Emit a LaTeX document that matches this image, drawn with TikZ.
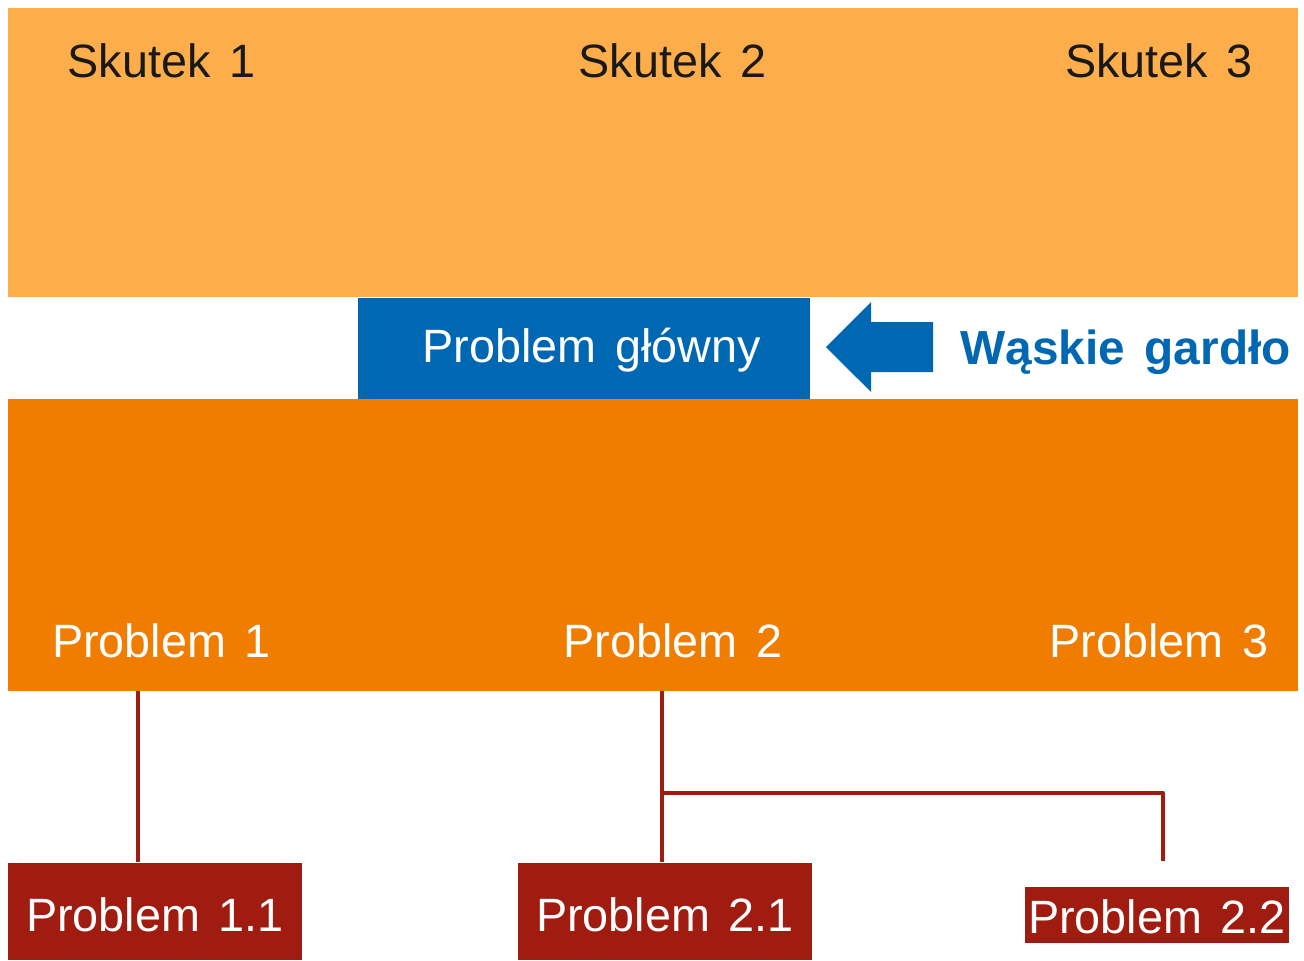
\documentclass[tikz,border=0pt]{standalone}
\usepackage{fontspec}
\setmainfont{Liberation Sans}[WordSpace=1.45]
\usepackage{xcolor}
\usepackage{tikz}
\usetikzlibrary{positioning,calc}

\definecolor{skutekorange}{RGB}{253,173,73}
\definecolor{problemorange}{RGB}{240,125,0}
\definecolor{mainblue}{RGB}{0,103,179}
\definecolor{subred}{RGB}{160,28,16}

\begin{document}
\begin{tikzpicture}[
            font=\fontsize{13.3pt}{15pt}\selectfont,
            band/.style={rectangle, minimum width=12.9cm, inner sep=0pt},
            bandtext/.style={anchor=base, inner sep=0pt},
            subbox/.style={rectangle, fill=subred, text=white, inner sep=0pt, text height=11.6pt, text depth=0pt},
            link/.style={draw=subred, line width=1.2pt, line join=round}
        ]
            \useasboundingbox (0,0) rectangle (13.04,-9.61);

            \node[band, fill=skutekorange, minimum height=2.89cm] (skutki) at (6.53,-1.525) {};
            \node[band, fill=problemorange, minimum height=2.92cm] (problemy) at (6.53,-5.45) {};
            \node[rectangle, fill=mainblue, minimum width=4.52cm, minimum height=1.01cm, inner sep=0pt] (glowny) at (5.84,-3.485) {};
            \node[bandtext, text=white] (glownytxt) at (5.92,-3.627) {Problem główny};

            \node[bandtext, text=black!90] (s1) at (1.615,-0.77) {Skutek 1};
            \node[bandtext, text=black!90] (s2) at (6.725,-0.77) {Skutek 2};
            \node[bandtext, text=black!90] (s3) at (11.59,-0.77) {Skutek 3};

            \node[bandtext, text=white] (pr1) at (1.615,-6.57) {Problem 1};
            \node[bandtext, text=white] (pr2) at (6.73,-6.57) {Problem 2};
            \node[bandtext, text=white] (pr3) at (11.59,-6.57) {Problem 3};

            % Bottleneck
            \fill[mainblue] (8.26,-3.47) -- (8.71,-3.02) -- (8.71,-3.22) -- (9.33,-3.22)
                -- (9.33,-3.72) -- (8.71,-3.72) -- (8.71,-3.92) -- cycle;
            \node[anchor=base west, inner sep=0pt, text=mainblue, font=\fontsize{13.6pt}{15pt}\selectfont\bfseries] (gardlo) at (9.60,-3.64) {Wąskie gardło};

            \node[subbox, minimum width=2.94cm, minimum height=0.97cm] (p11) at (1.55,-9.115) {Problem 1.1};
            \node[subbox, minimum width=2.94cm, minimum height=0.97cm] (p21) at (6.65,-9.115) {Problem 2.1};
            \node[subbox, minimum width=2.64cm, minimum height=0.56cm, text height=10.5pt] (p22) at (11.57,-9.15) {Problem 2.2};

            \coordinate (z1) at (1.38,-6.91);
            \coordinate (z2) at (6.62,-6.91);
            \coordinate (rozgal) at (6.62,-7.93);
            \coordinate (k22) at (11.63,-8.61);

            \draw[link] (z1) -- (z1 |- p11.north);
            \draw[link] (z2) -- (z2 |- p21.north);
            \draw[link] (rozgal) -| (k22);
        \end{tikzpicture}
\end{document}
